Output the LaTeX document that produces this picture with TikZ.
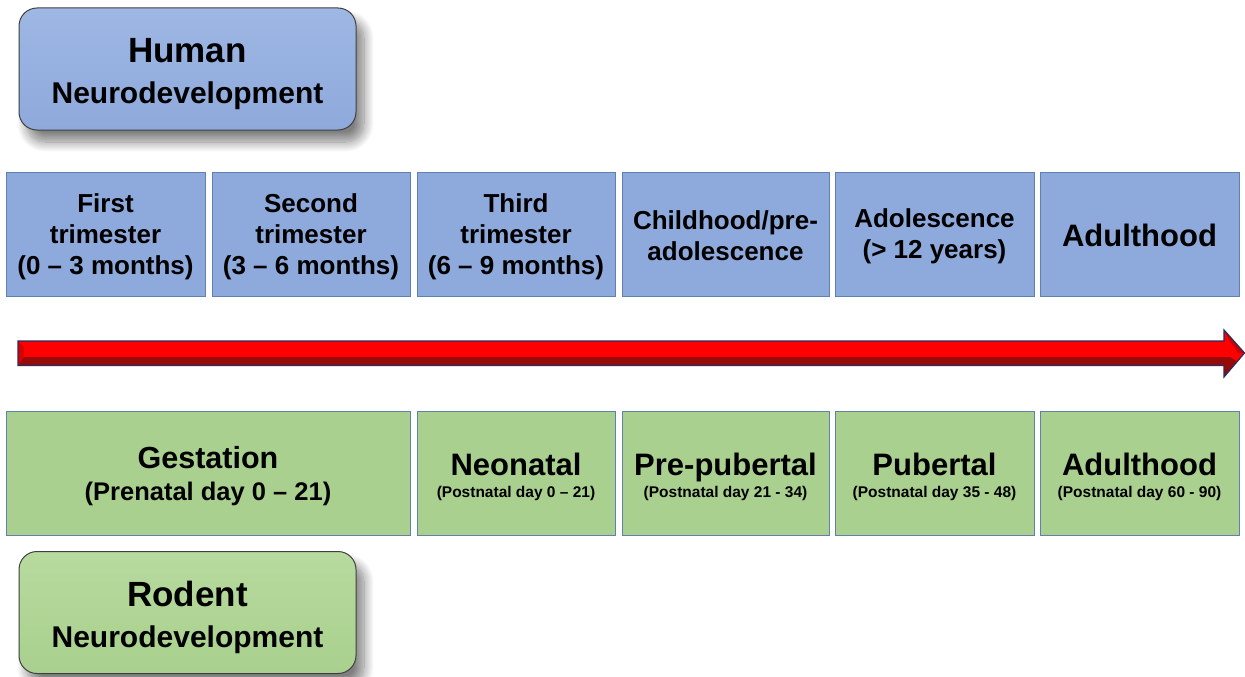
\documentclass[tikz,border=0pt]{standalone}
\usepackage{fontspec}
\setmainfont{Liberation Sans}
\usetikzlibrary{shadows.blur}
\definecolor{hblue}{RGB}{142,169,219}
\definecolor{hbluetop}{RGB}{158,183,228}
\definecolor{rgreen}{RGB}{169,208,142}
\definecolor{rgreentop}{RGB}{183,218,158}
\definecolor{boxline}{RGB}{96,128,176}
\definecolor{navy}{RGB}{40,45,95}
\definecolor{darkred}{RGB}{150,10,10}
\newcommand{\padtop}[1]{\rule{0pt}{#1}}
\tikzset{
  stage/.style={draw=boxline, line width=0.9pt, inner sep=0pt, align=center},
  hstage/.style={stage, fill=hblue},
  rstage/.style={stage, fill=rgreen},
  title/.style={draw=black!75, line width=1pt, rounded corners=18pt, inner sep=0pt, align=center,
     font=\bfseries\fontsize{30}{41}\selectfont,
     minimum width=337pt, minimum height=122pt,
     blur shadow={shadow xshift=8pt, shadow yshift=-12pt, shadow blur steps=14, shadow blur radius=10pt, shadow opacity=50}},
  big/.style={font=\bfseries\fontsize{26}{31}\selectfont},
  subsmall/.style={font=\bfseries\fontsize{15.5}{22}\selectfont},
}
\begin{document}
\begin{tikzpicture}[x=1pt,y=-1pt]
\useasboundingbox (0,0) rectangle (1245,677);
% titles
\node[title, top color=hbluetop, bottom color=hblue] (human) at (187.5,69)
  {\padtop{34pt}\fontsize{35}{42}\selectfont Human\\Neurodevelopment};
\node[title, top color=rgreentop, bottom color=rgreen] (rodent) at (187.5,612.5)
  {\padtop{36pt}\fontsize{35}{42}\selectfont Rodent\\Neurodevelopment};
% human stages
\begin{scope}[every node/.append style={minimum height=124pt}]
\node[hstage, minimum width=199pt, big] (h1) at (105.5,234) {\padtop{25pt}First\\trimester\\(0 -- 3 months)};
\node[hstage, minimum width=198pt, big] (h2) at (311,234) {\padtop{25pt}Second\\trimester\\(3 -- 6 months)};
\node[hstage, minimum width=198pt, big] (h3) at (516,234) {\padtop{25pt}Third\\trimester\\(6 -- 9 months)};
\node[hstage, minimum width=207pt, big] (h4) at (725.5,234) {\padtop{23pt}Childhood/pre-\\adolescence};
\node[hstage, minimum width=199pt, big] (h5) at (934.5,234) {\padtop{23pt}Adolescence\\(> 12 years)};
\node[hstage, minimum width=199pt, font=\bfseries\fontsize{31}{36}\selectfont] (h6) at (1139.5,234) {\padtop{25pt}Adulthood};
% rodent stages
\node[rstage, minimum width=404pt, font=\bfseries\fontsize{25.5}{32}\selectfont] (r1) at (208,473)
  {\padtop{28.5pt}\fontsize{30.5}{36}\selectfont Gestation\\(Prenatal day 0 -- 21)};
\node[rstage, minimum width=198pt, subsmall] (r2) at (516,473)
  {\padtop{30.5pt}\fontsize{31}{33}\selectfont Neonatal\\(Postnatal day 0 -- 21)};
\node[rstage, minimum width=207pt, subsmall] (r3) at (725.5,473)
  {\padtop{30.5pt}\fontsize{31}{33}\selectfont Pre-pubertal\\(Postnatal day 21 - 34)};
\node[rstage, minimum width=199pt, subsmall] (r4) at (934.5,473)
  {\padtop{30.5pt}\fontsize{31}{33}\selectfont Pubertal\\(Postnatal day 35 - 48)};
\node[rstage, minimum width=199pt, subsmall] (r5) at (1139.5,473)
  {\padtop{30.5pt}\fontsize{31}{33}\selectfont Adulthood\\(Postnatal day 60 - 90)};
\end{scope}
% timeline arrow
\fill[red] (18,341) -- (1224,341) -- (1224,330) -- (1244.5,353) -- (1224,377) -- (1224,365.5) -- (18,365.5) -- cycle;
\fill[darkred] (24,357) -- (1230,357) -- (1237,361.5) -- (1224,376) -- (1224,365.5) -- (18,365.5) -- cycle;
\fill[red!85!black] (18,341) -- (24,347) -- (24,357) -- (18,365.5) -- cycle;
\fill[red!80!black] (1224,330) -- (1229,340) -- (1238,353) -- (1244.5,353) -- cycle;
\draw[navy, line width=1.2pt, line join=miter] (18,341) -- (1224,341) -- (1224,330) -- (1244.5,353) -- (1224,377) -- (1224,365.5) -- (18,365.5) -- cycle;
\end{tikzpicture}
\end{document}
